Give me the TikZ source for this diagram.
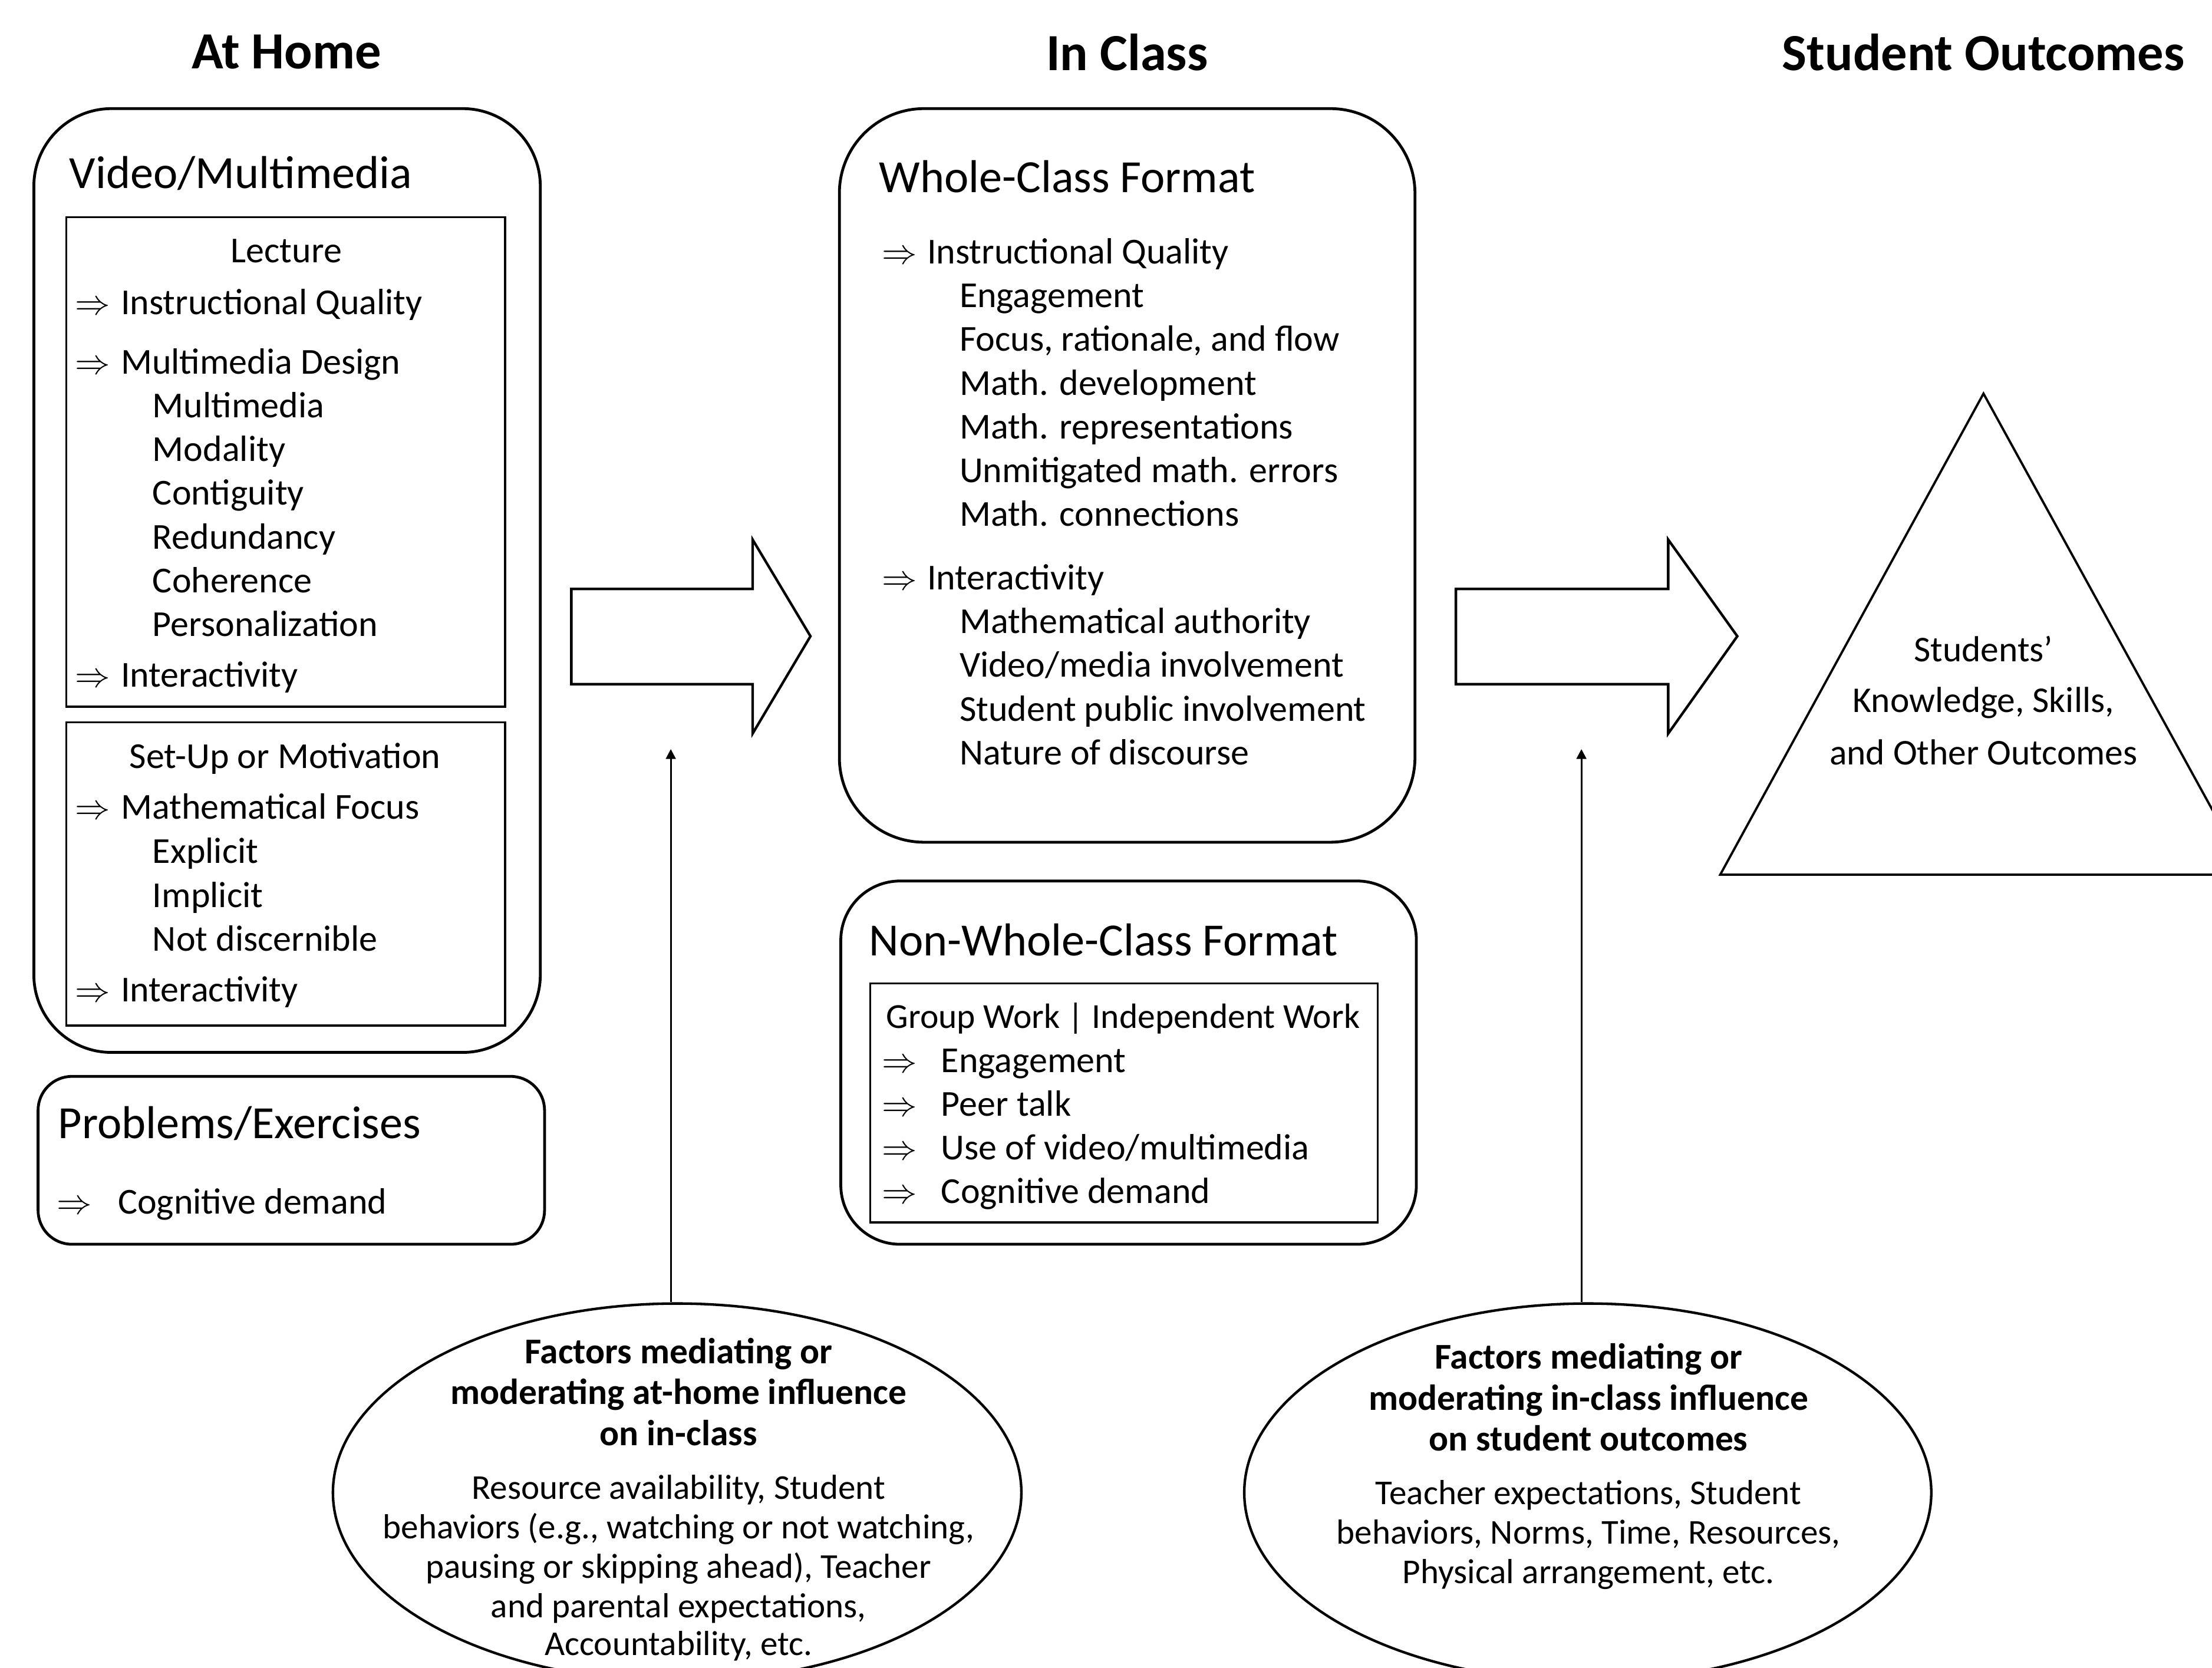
\documentclass[tikz,border=0pt]{standalone}
\usepackage{fontspec}
\setmainfont{Carlito}
\usetikzlibrary{arrows.meta,shapes.geometric}
\begin{document}
\begin{tikzpicture}[x=1pt,y=-1pt,
  hd/.style={font=\fontsize{37}{44}\selectfont\bfseries, inner sep=0pt},
  ttl/.style={font=\fontsize{32.7}{39}\selectfont, anchor=base west, inner sep=0pt},
  itm/.style={font=\fontsize{25.9}{31}\selectfont, anchor=base west, inner sep=0pt},
  arw/.style={itm},
  ctr/.style={itm, anchor=base},
  bld/.style={font=\fontsize{25.7}{29}\selectfont\bfseries, anchor=base, inner sep=0pt},
  sml/.style={font=\fontsize{24.7}{28}\selectfont, anchor=base, inner sep=0pt},
  tri/.style={font=\fontsize{25.7}{37}\selectfont, anchor=base, inner sep=0pt},
  rbox/.style={draw, line width=2pt, anchor=north west, inner sep=0pt, outer sep=0pt},
  ibox/.style={draw, line width=1.4pt, anchor=north west, inner sep=0pt, outer sep=0pt},
  fat/.style={draw, line width=1.8pt, line join=miter},
  ell/.style={draw, ellipse, line width=1.8pt, inner sep=0pt},
  conn/.style={line width=1.3pt, -{Triangle[width=7pt,length=7pt]}},
]
\useasboundingbox (0,0) rectangle (1568,1182);
\clip (0,0) rectangle (1568,1182);

% headings
\node[hd] (hHome) at (203,37) {At Home};
\node[hd] (hClass) at (799,37) {In Class};
\node[hd] (hOut) at (1406,37) {Student Outcomes};

% ---------------- At home ----------------
\node[rbox, rounded corners=55pt, minimum width=359pt, minimum height=669pt] (vm) at (24,77) {};
\node[ttl] (vmT) at (49,133.5) {Video/Multimedia};
\node[ibox, minimum width=311pt, minimum height=347pt] (lecB) at (47,154) {};
\node[ctr] (lec) at (203,186) {Lecture};
\node[arw] (la1) at (53,223) {$\Rightarrow$};
\node[itm] (li1) at (85.5,223) {Instructional Quality};
\node[arw] (la2) at (53,265) {$\Rightarrow$};
\node[itm] (li2) at (85.5,265) {Multimedia Design};
\foreach \t [count=\i] in {Multimedia,Modality,Contiguity,Redundancy,Coherence,Personalization}{
  \pgfmathsetmacro\yy{296+31*(\i-1)}
  \node[itm] (ls\i) at (108,\yy) {\t};
}
\node[arw] (la3) at (53,487) {$\Rightarrow$};
\node[itm] (li3) at (85.5,487) {Interactivity};

\node[ibox, minimum width=311pt, minimum height=215pt] (suB) at (47,512) {};
\node[ctr] (su) at (202,544.5) {Set-Up or Motivation};
\node[arw] (sa1) at (53,580.5) {$\Rightarrow$};
\node[itm] (si1) at (85.5,580.5) {Mathematical Focus};
\foreach \t [count=\i] in {Explicit,Implicit,Not discernible}{
  \pgfmathsetmacro\yy{612+31*(\i-1)}
  \node[itm] (ss\i) at (108,\yy) {\t};
}
\node[arw] (sa2) at (53,710) {$\Rightarrow$};
\node[itm] (si2) at (85.5,710) {Interactivity};

\node[rbox, rounded corners=24pt, minimum width=359pt, minimum height=119pt] (pe) at (27,763) {};
\node[ttl] (peT) at (41,807) {Problems/Exercises};
\node[arw] (pa) at (40,860.5) {$\Rightarrow$};
\node[itm] (pi) at (83.4,860.5) {Cognitive demand};

% ---------------- In class ----------------
\node[rbox, rounded corners=60pt, minimum width=408pt, minimum height=520pt] (wc) at (595,77) {};
\node[ttl] (wcT) at (623,136.5) {Whole-Class Format};
\node[arw] (wa1) at (625,187) {$\Rightarrow$};
\node[itm] (wi1) at (657,187) {Instructional Quality};
\foreach \t [count=\i] in {Engagement,{Focus, rationale, and flow},Math. development,Math. representations,Unmitigated math. errors,Math. connections}{
  \pgfmathsetmacro\yy{218+31*(\i-1)}
  \node[itm] (ws\i) at (680,\yy) {\t};
}
\node[arw] (wa2) at (625,418) {$\Rightarrow$};
\node[itm] (wi2) at (657,418) {Interactivity};
\foreach \t [count=\i] in {Mathematical authority,Video/media involvement,Student public involvement,Nature of discourse}{
  \pgfmathsetmacro\yy{449+31*(\i-1)}
  \node[itm] (wt\i) at (680,\yy) {\t};
}

\node[rbox, rounded corners=42pt, minimum width=408pt, minimum height=257.5pt] (nw) at (596,624.5) {};
\node[ttl] (nwT) at (616,677.5) {Non-Whole-Class Format};
\node[ibox, minimum width=359.5pt, minimum height=169.5pt] (gwB) at (617,697) {};
\node[itm, font=\fontsize{24.9}{31}\selectfont] (gw) at (628,729) {Group Work | Independent Work};
\foreach \t [count=\i] in {Engagement,Peer talk,Use of video/multimedia,Cognitive demand}{
  \pgfmathsetmacro\yy{760+31*(\i-1)}
  \node[arw] (na\i) at (625,\yy) {$\Rightarrow$};
  \node[itm] (ni\i) at (667,\yy) {\t};
}

% ---------------- big arrows ----------------
\draw[fat] (405,417.5) -- (533.5,417.5) -- (533.5,382.5) -- (574.5,451) -- (533.5,520) -- (533.5,485) -- (405,485) -- cycle;
\draw[fat] (1032,417.5) -- (1182.5,417.5) -- (1182.5,382.5) -- (1231.5,451) -- (1182.5,520) -- (1182.5,485) -- (1032,485) -- cycle;

% ---------------- outcomes ----------------
\draw[line width=1.6pt, line join=miter] (1406,279) -- (1219.4,620) -- (1593.5,620) -- cycle;
\node[tri] (o1) at (1406,469) {Students’};
\node[tri] (o2) at (1406,505) {Knowledge, Skills,};
\node[tri] (o3) at (1406,542) {and Other Outcomes};

% ---------------- ellipses ----------------
\node[ell, minimum width=488pt, minimum height=268pt] (e1) at (480,1058) {};
\node[bld] (e1a) at (481,966.5) {Factors mediating or};
\node[bld] (e1b) at (481,995.5) {moderating at-home influence};
\node[bld] (e1c) at (481,1024.5) {on in-class};
\node[sml] (e1d) at (481,1062.5) {Resource availability, Student};
\node[sml] (e1e) at (481,1090.5) {behaviors (e.g., watching or not watching,};
\node[sml] (e1f) at (481,1118.5) {pausing or skipping ahead), Teacher};
\node[sml] (e1g) at (481,1146.5) {and parental expectations,};
\node[sml] (e1h) at (481,1173.5) {Accountability, etc.};

\node[ell, minimum width=487pt, minimum height=268pt] (e2) at (1125.5,1058) {};
\node[bld] (e2a) at (1126,970.5) {Factors mediating or};
\node[bld] (e2b) at (1126,999.5) {moderating in-class influence};
\node[bld] (e2c) at (1126,1028.5) {on student outcomes};
\node[sml] (e2d) at (1126,1066.5) {Teacher expectations, Student};
\node[sml] (e2e) at (1126,1094.5) {behaviors, Norms, Time, Resources,};
\node[sml] (e2f) at (1126,1122.5) {Physical arrangement, etc.};

% ---------------- connectors ----------------
\coordinate (t1) at (475.5,531);
\coordinate (t2) at (1121,531);
\draw[conn] (e1.north -| t1) -- (t1);
\draw[conn] (e2.north -| t2) -- (t2);
\end{tikzpicture}
\end{document}
